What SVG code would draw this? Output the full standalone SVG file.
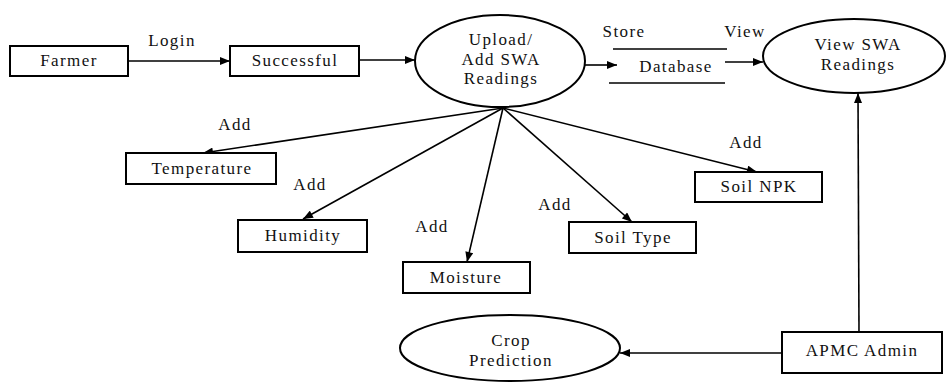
<svg xmlns="http://www.w3.org/2000/svg" width="949" height="384" viewBox="0 0 949 384" font-family="'Liberation Serif', 'DejaVu Serif', serif">
  <style>
    text { font-family: 'Liberation Serif', 'DejaVu Serif', serif; font-size: 17px; letter-spacing: 1.4px; fill: #111; text-anchor: middle; }
    .box { fill: #fff; stroke: #000; stroke-width: 2; }
    .proc { fill: #fff; stroke: #000; stroke-width: 2; }
    .edge { fill: none; stroke: #000; stroke-width: 1.6; }
    .store { fill: none; stroke: #000; stroke-width: 1.6; }
  </style>
  <defs>
    <marker id="arrow" viewBox="0 0 10 8" markerWidth="11" markerHeight="8" refX="10" refY="4" orient="auto" markerUnits="userSpaceOnUse">
      <path d="M0,0 L10,4 L0,8 z" fill="#000"/>
    </marker>
  </defs>

  <rect width="949" height="384" fill="#fff"/>

  <!-- connectors -->
  <g id="connectors">
    <line class="edge" x1="128" y1="61" x2="230" y2="61" marker-end="url(#arrow)"/>
    <line class="edge" x1="359" y1="60" x2="415" y2="60" marker-end="url(#arrow)"/>
    <line class="edge" x1="585" y1="65" x2="617" y2="65" marker-end="url(#arrow)"/>
    <line class="edge" x1="725" y1="62" x2="763" y2="62" marker-end="url(#arrow)"/>
    <line class="edge" x1="503" y1="108" x2="203" y2="153" marker-end="url(#arrow)"/>
    <line class="edge" x1="503" y1="108" x2="303" y2="219" marker-end="url(#arrow)"/>
    <line class="edge" x1="503" y1="108" x2="467" y2="262" marker-end="url(#arrow)"/>
    <line class="edge" x1="503" y1="108" x2="632" y2="222" marker-end="url(#arrow)"/>
    <line class="edge" x1="503" y1="108" x2="757" y2="172" marker-end="url(#arrow)"/>
    <line class="edge" x1="859" y1="332" x2="858" y2="93" marker-end="url(#arrow)"/>
    <line class="edge" x1="782" y1="353" x2="620" y2="353" marker-end="url(#arrow)"/>

    <text x="172" y="46">Login</text>
    <text x="624" y="37">Store</text>
    <text x="745" y="37">View</text>
    <text x="235" y="130">Add</text>
    <text x="310" y="190">Add</text>
    <text x="432" y="232">Add</text>
    <text x="555" y="210">Add</text>
    <text x="746" y="148">Add</text>
  </g>

  <!-- nodes -->
  <g id="farmer">
    <rect class="box" x="10" y="46" width="118" height="30"/>
    <text x="69" y="66">Farmer</text>
  </g>

  <g id="successful">
    <rect class="box" x="230" y="46" width="129" height="30"/>
    <text x="295" y="66">Successful</text>
  </g>

  <g id="upload-readings">
    <ellipse class="proc" cx="500" cy="61" rx="85" ry="46"/>
    <text x="501" y="45">Upload/</text>
    <text x="501" y="65">Add SWA</text>
    <text x="501" y="84">Readings</text>
  </g>

  <g id="database">
    <line class="store" x1="613" y1="49" x2="727" y2="49"/>
    <line class="store" x1="609" y1="83" x2="725" y2="83"/>
    <text x="676" y="72">Database</text>
  </g>

  <g id="view-readings">
    <ellipse class="proc" cx="854" cy="56" rx="91" ry="37"/>
    <text x="858" y="50">View SWA</text>
    <text x="858" y="70">Readings</text>
  </g>

  <g id="temperature">
    <rect class="box" x="126" y="153" width="150" height="31"/>
    <text x="202" y="174">Temperature</text>
  </g>

  <g id="humidity">
    <rect class="box" x="238" y="220" width="129" height="32"/>
    <text x="303" y="241">Humidity</text>
  </g>

  <g id="moisture">
    <rect class="box" x="403" y="262" width="127" height="31"/>
    <text x="466" y="283">Moisture</text>
  </g>

  <g id="soil-type">
    <rect class="box" x="569" y="222" width="127" height="31"/>
    <text x="633" y="243">Soil Type</text>
  </g>

  <g id="soil-npk">
    <rect class="box" x="695" y="172" width="127" height="30"/>
    <text x="759" y="192">Soil NPK</text>
  </g>

  <g id="apmc-admin">
    <rect class="box" x="782" y="332" width="160" height="41"/>
    <text x="862" y="356">APMC Admin</text>
  </g>

  <g id="crop-prediction">
    <ellipse class="proc" cx="510" cy="348" rx="110" ry="33"/>
    <text x="511" y="346">Crop</text>
    <text x="511" y="366">Prediction</text>
  </g>
</svg>
